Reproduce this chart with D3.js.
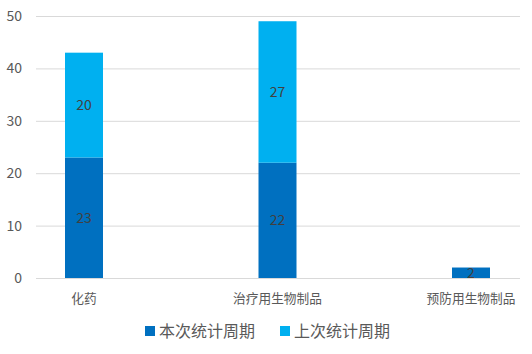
<!DOCTYPE html>
<html>
<head>
<meta charset="utf-8">
<script src="https://cdn.jsdelivr.net/npm/d3@7"></script>
<style>
  body { margin: 0; background: #fff; }
  text { font-family: "Noto Sans CJK SC", "Open Sans", sans-serif; }
</style>
</head>
<body>
<script>
const categories = ["化药", "治疗用生物制品", "预防用生物制品"];
const seriesNames = ["本次统计周期", "上次统计周期"];
const current = [23, 22, 2];
const previous = [20, 27, 0];
const yTicks = [0, 10, 20, 30, 40, 50];
const colors = ["#0070C0", "#00B0F0"];

const width = 532;
const height = 354;

const svg = d3.select("body").append("svg")
    .attr("width", width)
    .attr("height", height);

const y = d3.scaleLinear().domain([0, 50]).range([278, 16]);
const x = d3.scalePoint().domain(categories).range([84, 471]);
const barW = 38;

// gridlines
svg.append("g").selectAll("line")
    .data(yTicks)
    .enter().append("line")
    .attr("x1", 36).attr("x2", 520)
    .attr("y1", d => y(d) + 0.5).attr("y2", d => y(d) + 0.5)
    .style("stroke", "#d9d9d9");

// y labels
svg.append("g").selectAll("text")
    .data(yTicks)
    .enter().append("text")
    .attr("x", 22).attr("y", d => y(d))
    .attr("dy", "0.35em")
    .style("text-anchor", "end")
    .style("font-size", "14px")
    .style("fill", "#595959")
    .text(d => d);

const rows = categories.map((c, i) => ({ cat: c, current: current[i], previous: previous[i] }));
const stack = d3.stack().keys(["current", "previous"])(rows);

const layers = svg.append("g").selectAll("g")
    .data(stack)
    .enter().append("g")
    .style("fill", (d, i) => colors[i]);

layers.selectAll("rect")
    .data(d => d)
    .enter().append("rect")
    .attr("x", d => x(d.data.cat) - barW / 2)
    .attr("width", barW)
    .attr("y", d => y(d[1]))
    .attr("height", d => y(d[0]) - y(d[1]));

// data labels
layers.selectAll("text")
    .data(d => d.filter(v => v[1] - v[0] > 0))
    .enter().append("text")
    .attr("x", d => x(d.data.cat))
    .attr("y", d => y((d[0] + d[1]) / 2))
    .attr("dy", "0.35em")
    .style("text-anchor", "middle")
    .style("font-size", "14px")
    .style("fill", "#404040")
    .text(d => d[1] - d[0]);

// category labels
svg.append("g").selectAll("text")
    .data(categories)
    .enter().append("text")
    .attr("x", d => x(d)).attr("y", 299)
    .attr("dy", "0.35em")
    .style("text-anchor", "middle")
    .style("font-size", "12.7px")
    .style("fill", "#595959")
    .text(d => d);

// legend
const legendX = [145, 280];
const legend = svg.append("g").selectAll("g")
    .data(seriesNames)
    .enter().append("g")
    .attr("transform", (d, i) => `translate(${legendX[i]}, 331)`);

legend.append("rect")
    .attr("x", 0).attr("y", -5)
    .attr("width", 10).attr("height", 10)
    .style("fill", (d, i) => colors[i]);

legend.append("text")
    .attr("x", 14).attr("y", 0)
    .attr("dy", "0.35em")
    .style("font-size", "16px")
    .style("fill", "#595959")
    .text(d => d);
</script>
</body>
</html>
